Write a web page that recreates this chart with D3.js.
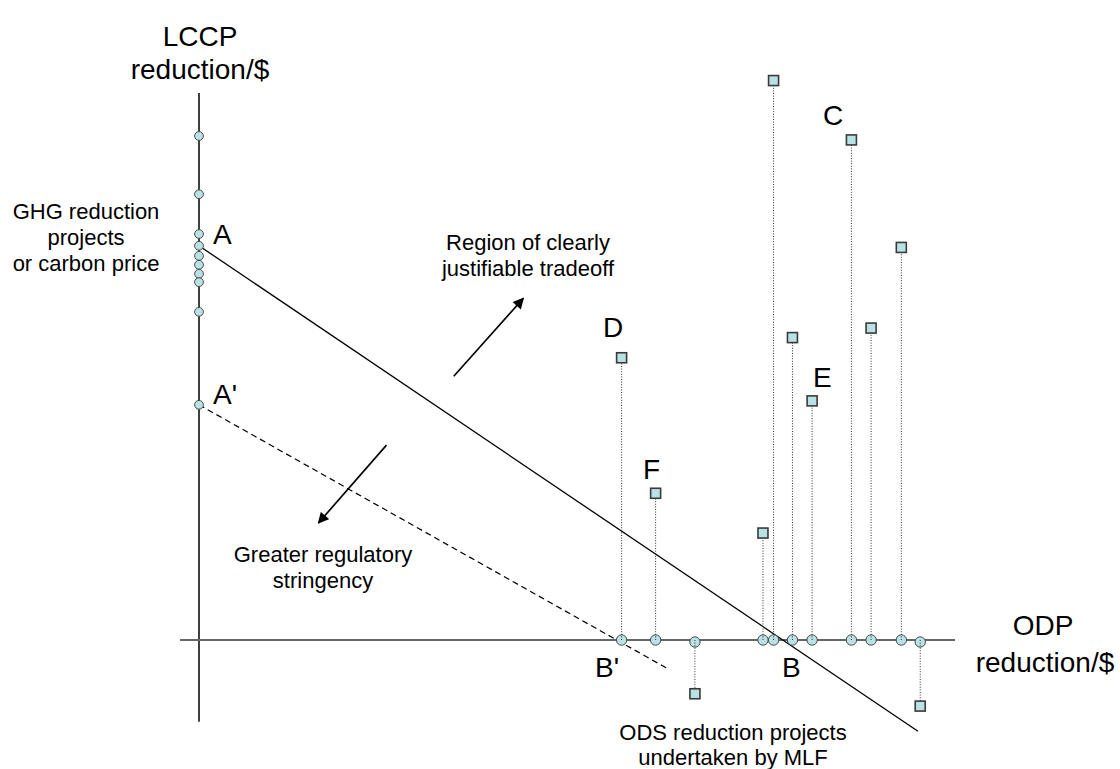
<!DOCTYPE html>
<html><head><meta charset="utf-8">
<script src="https://cdn.jsdelivr.net/npm/d3@7"></script>
<style>
html,body{margin:0;padding:0;background:#fff;}
svg{display:block;font-family:"Liberation Sans",Arial,sans-serif;}
</style></head>
<body>
<svg id="chart" width="1120" height="769"></svg>
<script>
// ODS reduction projects (MLF): ODP reduction/$ and LCCP reduction/$
const odsX    = [55.9, 60.4, 65.6, 74.6, 76.0, 78.5, 81.1, 86.3, 88.9, 92.9, 95.4];
const odsLccp = [50.4, 26.2, -9.6, 19.1, 99.9, 54.0, 42.7, 89.3, 55.7, 70.1, -11.8];
// GHG reduction projects on the LCCP axis
const ghgY = [90.0, 79.6, 72.5, 70.4, 68.6, 67.0, 65.4, 63.9, 58.6, 42.0];
// Trade-off lines (A–B solid, A'–B' dashed)
const lineAB  = [[0, 70.4], [95.1, -16.3]];
const lineApB = [[0, 42.0], [61.9, -5.05]];
// Direction arrows
const arrowUp   = [[33.7, 47.1], [42.9, 61.0]];
const arrowDown = [[24.8, 34.8], [15.8, 20.9]];
// Axis extents
const xAxisExtent = [-2.5, 100];
const yAxisExtent = [-14.6, 97.7];

const svg = d3.select("#chart");
const x = d3.scaleLinear().domain([0, 100]).range([199, 955]);
const y = d3.scaleLinear().domain([0, 100]).range([640, 80]);

const defs = svg.append("defs");
defs.append("marker").attr("id","arr").attr("viewBox","0 0 10 10")
  .attr("refX",9).attr("refY",5).attr("markerWidth",12).attr("markerHeight",11)
  .attr("markerUnits","userSpaceOnUse").attr("orient","auto")
  .append("path").attr("d","M0,0 L10,5 L0,10 z").attr("fill","#000");

// axes
svg.append("line").attr("x1",x(0)).attr("x2",x(0))
  .attr("y1",y(yAxisExtent[1])).attr("y2",y(yAxisExtent[0]))
  .attr("stroke","#000").attr("stroke-width",1.5);
svg.append("line").attr("x1",x(xAxisExtent[0])).attr("x2",x(xAxisExtent[1]))
  .attr("y1",y(0)).attr("y2",y(0))
  .attr("stroke","#666").attr("stroke-width",2.2);

const ln = d3.line().x(d=>x(d[0])).y(d=>y(d[1]));
svg.append("path").attr("d",ln(lineAB)).attr("stroke","#000").attr("stroke-width",1.3).attr("fill","none");
svg.append("path").attr("d",ln(lineApB)).attr("stroke","#000").attr("stroke-width",1.2)
  .attr("stroke-dasharray","6,4").attr("fill","none");
[arrowUp, arrowDown].forEach(a=>{
  svg.append("path").attr("d",ln(a)).attr("stroke","#000").attr("stroke-width",1.7)
    .attr("fill","none").attr("marker-end","url(#arr)");
});

const fillC = "#b9e2e4", strokeC = "#4a4a4a";
// GHG circles
svg.selectAll("circle.ghg").data(ghgY).join("circle").attr("class","ghg")
  .attr("cx",x(0)).attr("cy",d=>y(d)).attr("r",4.4)
  .attr("fill",fillC).attr("stroke",strokeC).attr("stroke-width",1);

const ods = odsX.map((v,i)=>({x:v, l:odsLccp[i]}));
// ODS circles on axis
svg.selectAll("circle.ods").data(ods).join("circle").attr("class","ods")
  .attr("cx",d=>x(d.x)).attr("cy",d=>y(0)+(d.l<0?2:0)).attr("r",5.2)
  .attr("fill",fillC).attr("stroke",strokeC).attr("stroke-width",1);
// stems
svg.selectAll("line.stem").data(ods).join("line").attr("class","stem")
  .attr("x1",d=>x(d.x)).attr("x2",d=>x(d.x))
  .attr("y1",y(0)).attr("y2",d=>y(d.l))
  .attr("stroke","#333").attr("stroke-width",1).attr("stroke-dasharray","1,1.6");
// squares
const s = 10;
svg.selectAll("rect.ods").data(ods).join("rect").attr("class","ods")
  .attr("x",d=>x(d.x)-s/2).attr("y",d=>y(d.l)-s/2).attr("width",s).attr("height",s)
  .attr("fill",fillC).attr("stroke","#3a3a3a").attr("stroke-width",1.6);

// Text
const big = [
  {t:"LCCP", x:200, y:46, a:"middle"},
  {t:"reduction/$", x:200, y:79, a:"middle"},
  {t:"A", x:213, y:244, a:"start"},
  {t:"A'", x:213, y:404, a:"start"},
  {t:"D", x:603, y:337, a:"start"},
  {t:"F", x:643, y:479, a:"start"},
  {t:"E", x:813, y:387, a:"start"},
  {t:"C", x:823, y:125, a:"start"},
  {t:"B'", x:595, y:677, a:"start"},
  {t:"B", x:782, y:677, a:"start"},
  {t:"ODP", x:1043, y:635, a:"middle"},
  {t:"reduction/$", x:1045, y:672, a:"middle"}
];
svg.selectAll("text.big").data(big).join("text").attr("class","big")
  .attr("x",d=>d.x).attr("y",d=>d.y).attr("text-anchor",d=>d.a)
  .attr("font-size",28).attr("fill","#000").text(d=>d.t);

const small = [
  {t:"GHG reduction", x:86, y:219},
  {t:"projects", x:86, y:245},
  {t:"or carbon price", x:86, y:271},
  {t:"Region of clearly", x:528, y:250},
  {t:"justifiable tradeoff", x:528, y:276},
  {t:"Greater regulatory", x:323, y:562},
  {t:"stringency", x:323, y:588},
  {t:"ODS reduction projects", x:733, y:740},
  {t:"undertaken by MLF", x:733, y:765}
];
svg.selectAll("text.small").data(small).join("text").attr("class","small")
  .attr("x",d=>d.x).attr("y",d=>d.y).attr("text-anchor","middle")
  .attr("font-size",22).attr("fill","#000").text(d=>d.t);
</script>
</body></html>
